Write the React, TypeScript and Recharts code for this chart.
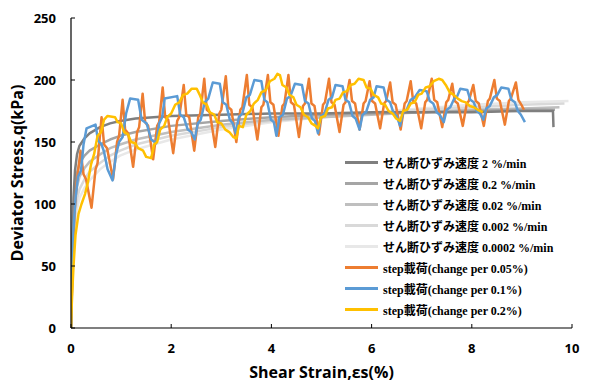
import React from 'react';
import { LineChart, Line, XAxis, YAxis, Legend } from 'recharts';

type Pt = [number, number];

const xTicks = [0, 2, 4, 6, 8, 10];
const yTicks = [0, 50, 100, 150, 200, 250];

const rate2: Pt[] = [[0,0],[0.01,35],[0.03,75],[0.05,105],[0.08,127],[0.12,140],[0.17,147],[0.27,153],[0.37,157],[0.58,162],[0.78,165],[0.98,167],[1.29,169],[2,171],[3,172],[4,173],[5,173],[6,174],[7,174],[8,174],[9,175],[9.62,175],[9.63,162]];
const rate02: Pt[] = [[0,0],[0.01,25],[0.03,60],[0.05,90],[0.08,112],[0.12,125],[0.17,133],[0.27,139],[0.37,143],[0.58,148],[0.78,152],[0.98,155],[1.29,158],[2,163],[3,167],[4,170],[5,172],[6,173],[7,174],[8,175],[9,176],[9.66,176]];
const rate002: Pt[] = [[0,0],[0.01,20],[0.03,50],[0.05,78],[0.08,100],[0.12,114],[0.17,122],[0.27,129],[0.37,134],[0.58,140],[0.78,145],[0.98,148],[1.29,152],[2,158],[3,164],[4,168],[5,170],[6,172],[7,174],[8,176],[9,177],[9.75,178]];
const rate0002: Pt[] = [[0,0],[0.01,15],[0.03,42],[0.05,68],[0.08,90],[0.12,104],[0.17,112],[0.27,120],[0.37,126],[0.58,133],[0.78,139],[0.98,143],[1.29,148],[2,155],[3,162],[4,167],[5,170],[6,173],[7,176],[8,178],[9,180],[9.85,181]];
const rate00002: Pt[] = [[0,0],[0.01,12],[0.03,36],[0.05,60],[0.08,82],[0.12,96],[0.17,105],[0.27,113],[0.37,119],[0.58,128],[0.78,134],[0.98,139],[1.29,144],[2,152],[3,160],[4,166],[5,170],[6,174],[7,177],[8,180],[9,182],[9.93,183]];

const step005: Pt[] = [[0,0],[0.03,50],[0.07,92],[0.11,116],[0.19,143],[0.25,124],[0.3,120],[0.41,97],
[0.49,128],[0.53,133],[0.61,170],[0.66,148],[0.72,145],[0.84,120],
[0.92,150],[0.96,155],[1.03,184],[1.08,160],[1.14,157],[1.24,130],
[1.32,158],[1.36,162],[1.43,189],[1.48,166],[1.54,163],[1.64,136],
[1.72,163],[1.76,166],[1.83,194],[1.88,170],[1.94,168],[2.04,141],
[2.12,167],[2.16,170],[2.25,196],[2.3,172],[2.36,170],[2.46,143],
[2.54,170],[2.58,173],[2.66,201],[2.71,176],[2.77,174],[2.88,146],
[2.96,173],[3.0,176],[3.09,203],[3.14,178],[3.2,176],[3.3,150],
[3.38,176],[3.42,178],[3.51,204],[3.56,180],[3.62,178],[3.72,152],
[3.8,178],[3.84,180],[3.93,204],[3.98,182],[4.04,180],[4.14,155],
[4.22,179],[4.26,181],[4.34,204],[4.39,182],[4.45,180],[4.55,154],
[4.63,179],[4.67,181],[4.75,201],[4.8,181],[4.86,179],[4.95,156],
[5.03,180],[5.07,182],[5.15,201],[5.2,182],[5.26,180],[5.36,158],
[5.44,180],[5.48,182],[5.56,200],[5.61,183],[5.67,181],[5.76,160],
[5.84,181],[5.88,183],[5.96,199],[6.01,183],[6.07,181],[6.17,161],
[6.25,181],[6.29,183],[6.37,198],[6.42,182],[6.48,180],[6.58,160],
[6.66,181],[6.7,183],[6.78,199],[6.83,183],[6.89,181],[6.99,161],
[7.07,182],[7.11,184],[7.2,201],[7.25,184],[7.31,182],[7.41,162],
[7.49,182],[7.53,184],[7.61,197],[7.66,183],[7.72,181],[7.82,163],
[7.9,181],[7.94,183],[8.03,196],[8.08,183],[8.14,181],[8.24,163],
[8.32,183],[8.36,185],[8.45,200],[8.5,185],[8.56,183],[8.66,164],
[8.74,183],[8.78,185],[8.88,198],[8.93,184],[8.99,180],[9.04,176]];

const step01: Pt[] = [[0,0],[0.02,45],[0.05,80],[0.09,105],[0.14,122],[0.2,127],[0.25,148],[0.31,161],[0.49,164],
[0.54,151],[0.61,148],[0.66,142],[0.73,128],[0.83,119],
[0.9,140],[0.96,150],[1.03,154],[1.1,173],[1.18,185],[1.34,184],
[1.41,168],[1.51,165],[1.6,152],[1.7,149],
[1.76,165],[1.82,170],[1.87,185],[2.12,187],
[2.18,172],[2.25,170],[2.33,160],[2.4,158],[2.47,152],
[2.53,165],[2.59,168],[2.67,182],[2.74,185],[2.83,198],[2.97,197],
[3.03,182],[3.1,180],[3.17,168],[3.23,165],[3.29,157],
[3.35,170],[3.42,173],[3.5,186],[3.57,188],[3.66,200],[3.8,199],
[3.86,184],[3.92,182],[3.99,168],[4.05,166],[4.1,155],
[4.16,170],[4.23,172],[4.31,185],[4.38,187],[4.47,197],[4.61,196],
[4.67,183],[4.74,181],[4.81,169],[4.87,167],[4.93,157],
[4.99,171],[5.06,173],[5.14,184],[5.21,186],[5.28,196],[5.42,195],
[5.48,184],[5.55,182],[5.62,171],[5.68,169],[5.76,160],
[5.82,172],[5.89,174],[5.97,184],[6.04,186],[6.1,195],[6.24,194],
[6.3,184],[6.37,182],[6.44,173],[6.5,171],[6.57,163],
[6.63,174],[6.7,176],[6.78,184],[6.86,186],[6.96,192],[7.1,191],
[7.16,183],[7.23,181],[7.3,174],[7.36,172],[7.44,166],
[7.5,176],[7.57,178],[7.65,185],[7.71,187],[7.77,193],[7.91,192],
[7.97,184],[8.04,182],[8.1,175],[8.16,173],[8.23,168],
[8.29,177],[8.36,179],[8.44,186],[8.51,188],[8.59,194],[8.73,193],
[8.79,184],[8.86,182],[8.92,175],[8.98,172],[9.06,166]];

const step02: Pt[] = [[0,0],[0.02,25],[0.05,50],[0.09,75],[0.15,92],[0.21,100],[0.28,108],[0.34,118],[0.4,132],[0.46,140],[0.53,155],[0.6,158],[0.66,168],[0.73,171],[0.88,170],
[0.93,166],[1.0,165],[1.06,158],[1.14,156],[1.2,150],[1.28,149],[1.34,145],[1.44,143],[1.5,138],[1.6,137],
[1.66,148],[1.72,150],[1.78,160],[1.86,163],[1.92,170],[2.0,173],[2.08,180],[2.16,182],[2.24,188],[2.32,189],[2.41,193],[2.51,193],
[2.57,188],[2.63,182],[2.71,180],[2.77,174],[2.86,172],[2.92,166],[3.0,165],[3.08,160],[3.16,158],[3.24,154],[3.3,153],
[3.35,163],[3.43,162],[3.5,172],[3.58,175],[3.65,181],[3.73,184],[3.8,190],[3.89,192],[3.97,199],[4.06,201],[4.12,205],[4.17,204],
[4.22,196],[4.3,194],[4.36,188],[4.44,186],[4.5,180],[4.58,178],[4.65,172],[4.73,170],[4.8,165],[4.88,163],[4.93,161],
[4.99,170],[5.07,171],[5.13,177],[5.21,178],[5.28,184],[5.36,185],[5.43,190],[5.51,191],[5.58,196],[5.66,197],[5.74,201],[5.84,200],
[5.9,194],[5.98,193],[6.04,188],[6.13,186],[6.19,181],[6.27,180],[6.34,175],[6.42,173],[6.49,169],[6.57,167],
[6.63,175],[6.71,176],[6.78,181],[6.86,182],[6.93,188],[7.0,189],[7.08,194],[7.16,195],[7.24,199],[7.34,201],[7.41,200],
[7.48,196],[7.56,190],[7.64,188],[7.72,185],[7.8,183],[7.88,182],[7.96,179],[8.04,178],[8.12,176],[8.22,174]];

const seriesNames = [
  'せん断ひずみ速度 2 %/min',
  'せん断ひずみ速度 0.2 %/min',
  'せん断ひずみ速度 0.02 %/min',
  'せん断ひずみ速度 0.002 %/min',
  'せん断ひずみ速度 0.0002 %/min',
  'step載荷(change per 0.05%)',
  'step載荷(change per 0.1%)',
  'step載荷(change per 0.2%)',
];
const seriesColors = ['#7F7F7F', '#A5A5A5', '#BFBFBF', '#D9D9D9', '#E8E8E8', '#ED7D31', '#5B9BD5', '#FFC000'];
const seriesData = [rate2, rate02, rate002, rate0002, rate00002, step005, step01, step02];

const toRows = (arr: Pt[]) => arr.map(([s, q]) => ({ s, q }));

const drawOrder = [4, 3, 2, 1, 0, 5, 6, 7];

const tickStyle = { fontFamily: "'Open Sans', sans-serif", fontWeight: 700, fontSize: 13, fill: '#000' };

const LegendBox = () => (
  <div style={{ width: 240 }}>
    {seriesNames.map((name, i) => (
      <div key={name} style={{ height: 21, display: 'flex', alignItems: 'center' }}>
        <span style={{ display: 'inline-block', width: 33, height: 3, background: seriesColors[i], marginRight: 5 }} />
        <span style={{ fontFamily: "'Liberation Serif', 'Noto Sans CJK JP', serif", fontWeight: 700, fontSize: 12, color: '#000', whiteSpace: 'nowrap' }}>{name}</span>
      </div>
    ))}
  </div>
);

export default function App() {
  return (
    <div style={{ position: 'absolute', left: 0, top: 0, width: 591, height: 382, background: '#fff' }}>
      <LineChart width={591} height={382} margin={{ top: 18, right: 19, left: 0, bottom: 0 }}>
        <XAxis
          type="number"
          dataKey="s"
          domain={[0, 10]}
          ticks={xTicks}
          allowDataOverflow
          height={54}
          tickSize={-4}
          tickMargin={20}
          tick={tickStyle}
          axisLine={{ stroke: '#000', strokeWidth: 1.2 }}
          tickLine={{ stroke: '#000' }}
          label={{ value: 'Shear Strain,εs(%)', position: 'insideBottom', offset: 4, style: { fontFamily: "'Open Sans', sans-serif", fontWeight: 700, fontSize: 16, fill: '#000' } }}
        />
        <YAxis
          type="number"
          domain={[0, 250]}
          ticks={yTicks}
          width={71}
          tickSize={-4}
          tickMargin={19}
          tick={tickStyle}
          axisLine={{ stroke: '#000', strokeWidth: 1.2 }}
          tickLine={{ stroke: '#000' }}
          label={{ value: 'Deviator Stress,q(kPa)', angle: -90, position: 'insideLeft', offset: 17, style: { textAnchor: 'middle', fontFamily: "'Open Sans', sans-serif", fontWeight: 700, fontSize: 16, fill: '#000' } }}
        />
        {drawOrder.map((i) => (
          <Line
            key={seriesNames[i]}
            name={seriesNames[i]}
            data={toRows(seriesData[i])}
            dataKey="q"
            type="linear"
            stroke={seriesColors[i]}
            strokeWidth={2.5}
            strokeLinejoin="round"
            dot={false}
            activeDot={false}
            isAnimationActive={false}
          />
        ))}
        <Legend
          layout="vertical"
          align="center"
          verticalAlign="middle"
          wrapperStyle={{ left: 345, top: 152, width: 240 }}
          content={() => <LegendBox />}
        />
      </LineChart>
    </div>
  );
}
